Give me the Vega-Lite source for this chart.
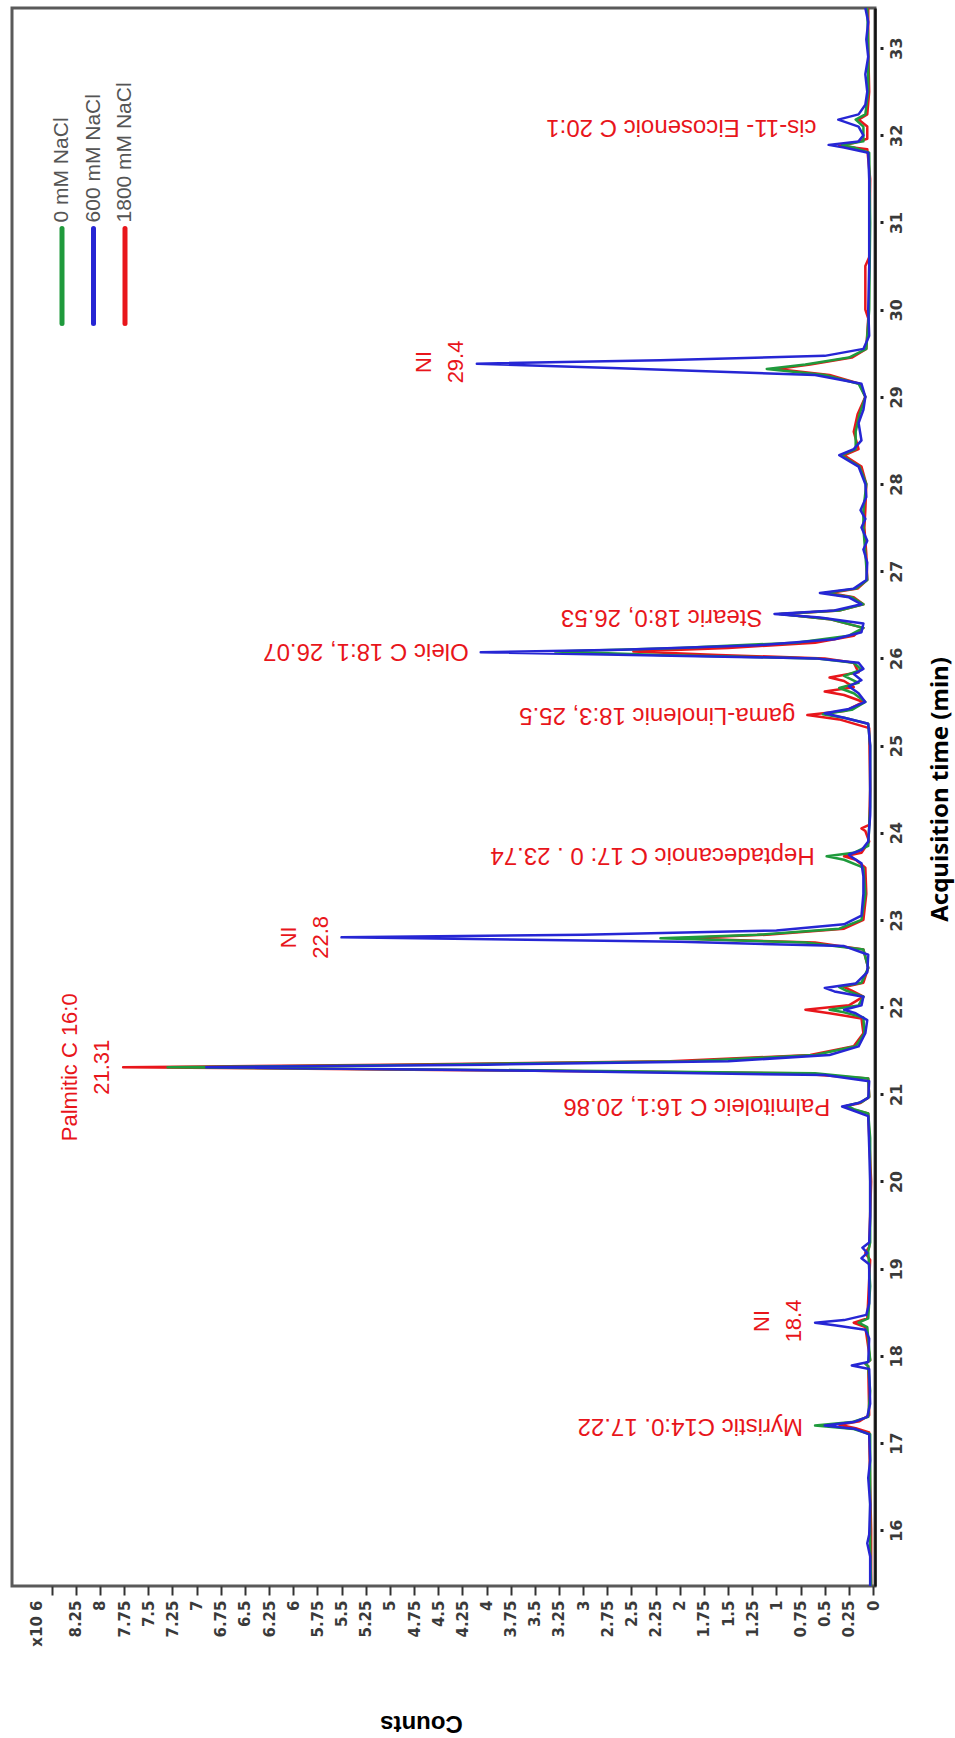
{
  "$schema": "https://vega.github.io/schema/vega-lite/v6.json",
  "width": 863,
  "height": 1578,
  "autosize": {"type": "none"},
  "padding": {"left": 12, "top": 8, "right": 80, "bottom": 152},
  "background": "white",
  "config": {"view": {"stroke": "#5a5a5a", "strokeWidth": 3}},
  "datasets": {
    "traces": [
      {"s":"600 mM NaCl","t":15.36,"c":0.03},{"s":"600 mM NaCl","t":15.7,"c":0.03},{"s":"600 mM NaCl","t":15.85,"c":0.06},{"s":"600 mM NaCl","t":15.95,"c":0.04},{"s":"600 mM NaCl","t":16.3,"c":0.03},{"s":"600 mM NaCl","t":16.6,"c":0.05},{"s":"600 mM NaCl","t":16.8,"c":0.03},
      {"s":"600 mM NaCl","t":17.1,"c":0.04},{"s":"600 mM NaCl","t":17.16,"c":0.18},{"s":"600 mM NaCl","t":17.2,"c":0.5},{"s":"600 mM NaCl","t":17.24,"c":0.2},{"s":"600 mM NaCl","t":17.3,"c":0.06},{"s":"600 mM NaCl","t":17.45,"c":0.03},
      {"s":"600 mM NaCl","t":17.85,"c":0.04},{"s":"600 mM NaCl","t":17.89,"c":0.22},{"s":"600 mM NaCl","t":17.93,"c":0.05},{"s":"600 mM NaCl","t":18.2,"c":0.04},{"s":"600 mM NaCl","t":18.3,"c":0.08},{"s":"600 mM NaCl","t":18.35,"c":0.4},{"s":"600 mM NaCl","t":18.38,"c":0.6},{"s":"600 mM NaCl","t":18.41,"c":0.3},{"s":"600 mM NaCl","t":18.47,"c":0.07},{"s":"600 mM NaCl","t":18.6,"c":0.04},
      {"s":"600 mM NaCl","t":19.05,"c":0.04},{"s":"600 mM NaCl","t":19.12,"c":0.12},{"s":"600 mM NaCl","t":19.18,"c":0.06},{"s":"600 mM NaCl","t":19.24,"c":0.11},{"s":"600 mM NaCl","t":19.3,"c":0.04},{"s":"600 mM NaCl","t":19.6,"c":0.03},{"s":"600 mM NaCl","t":20.0,"c":0.03},{"s":"600 mM NaCl","t":20.4,"c":0.04},
      {"s":"600 mM NaCl","t":20.75,"c":0.05},{"s":"600 mM NaCl","t":20.82,"c":0.22},{"s":"600 mM NaCl","t":20.86,"c":0.32},{"s":"600 mM NaCl","t":20.9,"c":0.15},{"s":"600 mM NaCl","t":20.96,"c":0.05},{"s":"600 mM NaCl","t":21.15,"c":0.04},
      {"s":"600 mM NaCl","t":21.22,"c":0.5},{"s":"600 mM NaCl","t":21.27,"c":3.5},{"s":"600 mM NaCl","t":21.31,"c":6.9},{"s":"600 mM NaCl","t":21.34,"c":4.0},{"s":"600 mM NaCl","t":21.38,"c":1.5},{"s":"600 mM NaCl","t":21.45,"c":0.45},{"s":"600 mM NaCl","t":21.55,"c":0.15},{"s":"600 mM NaCl","t":21.7,"c":0.08},
      {"s":"600 mM NaCl","t":21.85,"c":0.06},{"s":"600 mM NaCl","t":21.93,"c":0.18},{"s":"600 mM NaCl","t":21.97,"c":0.3},{"s":"600 mM NaCl","t":22.02,"c":0.12},{"s":"600 mM NaCl","t":22.12,"c":0.1},{"s":"600 mM NaCl","t":22.18,"c":0.4},{"s":"600 mM NaCl","t":22.22,"c":0.5},{"s":"600 mM NaCl","t":22.27,"c":0.18},{"s":"600 mM NaCl","t":22.4,"c":0.06},
      {"s":"600 mM NaCl","t":22.6,"c":0.05},{"s":"600 mM NaCl","t":22.7,"c":0.3},{"s":"600 mM NaCl","t":22.75,"c":2.0},{"s":"600 mM NaCl","t":22.8,"c":5.5},{"s":"600 mM NaCl","t":22.83,"c":3.0},{"s":"600 mM NaCl","t":22.88,"c":1.0},{"s":"600 mM NaCl","t":22.95,"c":0.3},{"s":"600 mM NaCl","t":23.05,"c":0.12},
      {"s":"600 mM NaCl","t":23.3,"c":0.1},{"s":"600 mM NaCl","t":23.5,"c":0.1},{"s":"600 mM NaCl","t":23.65,"c":0.12},{"s":"600 mM NaCl","t":23.72,"c":0.22},{"s":"600 mM NaCl","t":23.75,"c":0.25},{"s":"600 mM NaCl","t":23.8,"c":0.12},{"s":"600 mM NaCl","t":23.9,"c":0.05},
      {"s":"600 mM NaCl","t":24.2,"c":0.03},{"s":"600 mM NaCl","t":24.6,"c":0.03},{"s":"600 mM NaCl","t":25.0,"c":0.03},{"s":"600 mM NaCl","t":25.25,"c":0.05},{"s":"600 mM NaCl","t":25.32,"c":0.3},{"s":"600 mM NaCl","t":25.37,"c":0.5},{"s":"600 mM NaCl","t":25.42,"c":0.25},{"s":"600 mM NaCl","t":25.5,"c":0.08},
      {"s":"600 mM NaCl","t":25.6,"c":0.15},{"s":"600 mM NaCl","t":25.68,"c":0.25},{"s":"600 mM NaCl","t":25.75,"c":0.12},{"s":"600 mM NaCl","t":25.82,"c":0.2},{"s":"600 mM NaCl","t":25.88,"c":0.1},{"s":"600 mM NaCl","t":25.95,"c":0.15},
      {"s":"600 mM NaCl","t":26.0,"c":0.6},{"s":"600 mM NaCl","t":26.04,"c":2.5},{"s":"600 mM NaCl","t":26.07,"c":4.06},{"s":"600 mM NaCl","t":26.1,"c":2.6},{"s":"600 mM NaCl","t":26.15,"c":1.2},{"s":"600 mM NaCl","t":26.22,"c":0.4},{"s":"600 mM NaCl","t":26.3,"c":0.12},
      {"s":"600 mM NaCl","t":26.4,"c":0.1},{"s":"600 mM NaCl","t":26.47,"c":0.55},{"s":"600 mM NaCl","t":26.51,"c":1.02},{"s":"600 mM NaCl","t":26.55,"c":0.4},{"s":"600 mM NaCl","t":26.62,"c":0.12},{"s":"600 mM NaCl","t":26.7,"c":0.25},{"s":"600 mM NaCl","t":26.75,"c":0.55},{"s":"600 mM NaCl","t":26.8,"c":0.2},{"s":"600 mM NaCl","t":26.9,"c":0.07},
      {"s":"600 mM NaCl","t":27.1,"c":0.06},{"s":"600 mM NaCl","t":27.25,"c":0.1},{"s":"600 mM NaCl","t":27.35,"c":0.06},{"s":"600 mM NaCl","t":27.5,"c":0.12},{"s":"600 mM NaCl","t":27.6,"c":0.08},{"s":"600 mM NaCl","t":27.7,"c":0.13},{"s":"600 mM NaCl","t":27.85,"c":0.07},
      {"s":"600 mM NaCl","t":28.0,"c":0.08},{"s":"600 mM NaCl","t":28.2,"c":0.15},{"s":"600 mM NaCl","t":28.33,"c":0.35},{"s":"600 mM NaCl","t":28.4,"c":0.2},{"s":"600 mM NaCl","t":28.5,"c":0.12},{"s":"600 mM NaCl","t":28.7,"c":0.15},{"s":"600 mM NaCl","t":28.85,"c":0.1},{"s":"600 mM NaCl","t":29.0,"c":0.08},
      {"s":"600 mM NaCl","t":29.15,"c":0.12},{"s":"600 mM NaCl","t":29.25,"c":0.6},{"s":"600 mM NaCl","t":29.33,"c":2.7},{"s":"600 mM NaCl","t":29.38,"c":4.1},{"s":"600 mM NaCl","t":29.42,"c":2.2},{"s":"600 mM NaCl","t":29.47,"c":0.5},{"s":"600 mM NaCl","t":29.55,"c":0.1},{"s":"600 mM NaCl","t":29.7,"c":0.04},
      {"s":"600 mM NaCl","t":30.0,"c":0.05},{"s":"600 mM NaCl","t":30.5,"c":0.04},{"s":"600 mM NaCl","t":31.0,"c":0.04},{"s":"600 mM NaCl","t":31.5,"c":0.04},{"s":"600 mM NaCl","t":31.8,"c":0.05},{"s":"600 mM NaCl","t":31.86,"c":0.3},{"s":"600 mM NaCl","t":31.89,"c":0.46},{"s":"600 mM NaCl","t":31.93,"c":0.15},
      {"s":"600 mM NaCl","t":32.0,"c":0.1},{"s":"600 mM NaCl","t":32.1,"c":0.15},{"s":"600 mM NaCl","t":32.18,"c":0.36},{"s":"600 mM NaCl","t":32.24,"c":0.15},{"s":"600 mM NaCl","t":32.35,"c":0.08},{"s":"600 mM NaCl","t":32.5,"c":0.06},{"s":"600 mM NaCl","t":32.7,"c":0.08},{"s":"600 mM NaCl","t":32.9,"c":0.05},{"s":"600 mM NaCl","t":33.1,"c":0.07},{"s":"600 mM NaCl","t":33.3,"c":0.05},{"s":"600 mM NaCl","t":33.46,"c":0.08},

      {"s":"0 mM NaCl","t":15.36,"c":0.02},{"s":"0 mM NaCl","t":15.8,"c":0.03},{"s":"0 mM NaCl","t":16.0,"c":0.03},{"s":"0 mM NaCl","t":16.5,"c":0.03},{"s":"0 mM NaCl","t":17.1,"c":0.03},{"s":"0 mM NaCl","t":17.16,"c":0.2},{"s":"0 mM NaCl","t":17.2,"c":0.6},{"s":"0 mM NaCl","t":17.24,"c":0.22},{"s":"0 mM NaCl","t":17.3,"c":0.05},{"s":"0 mM NaCl","t":17.6,"c":0.03},
      {"s":"0 mM NaCl","t":17.88,"c":0.05},{"s":"0 mM NaCl","t":17.91,"c":0.08},{"s":"0 mM NaCl","t":17.95,"c":0.03},{"s":"0 mM NaCl","t":18.33,"c":0.06},{"s":"0 mM NaCl","t":18.38,"c":0.15},{"s":"0 mM NaCl","t":18.43,"c":0.05},{"s":"0 mM NaCl","t":18.8,"c":0.03},{"s":"0 mM NaCl","t":19.2,"c":0.05},{"s":"0 mM NaCl","t":19.3,"c":0.03},{"s":"0 mM NaCl","t":20.0,"c":0.03},{"s":"0 mM NaCl","t":20.5,"c":0.03},
      {"s":"0 mM NaCl","t":20.78,"c":0.05},{"s":"0 mM NaCl","t":20.83,"c":0.2},{"s":"0 mM NaCl","t":20.87,"c":0.27},{"s":"0 mM NaCl","t":20.91,"c":0.12},{"s":"0 mM NaCl","t":20.97,"c":0.04},{"s":"0 mM NaCl","t":21.18,"c":0.05},
      {"s":"0 mM NaCl","t":21.24,"c":0.6},{"s":"0 mM NaCl","t":21.28,"c":4.0},{"s":"0 mM NaCl","t":21.31,"c":7.3},{"s":"0 mM NaCl","t":21.34,"c":4.6},{"s":"0 mM NaCl","t":21.38,"c":1.9},{"s":"0 mM NaCl","t":21.45,"c":0.6},{"s":"0 mM NaCl","t":21.55,"c":0.18},{"s":"0 mM NaCl","t":21.7,"c":0.09},
      {"s":"0 mM NaCl","t":21.88,"c":0.1},{"s":"0 mM NaCl","t":21.94,"c":0.3},{"s":"0 mM NaCl","t":21.97,"c":0.45},{"s":"0 mM NaCl","t":22.02,"c":0.15},{"s":"0 mM NaCl","t":22.12,"c":0.1},{"s":"0 mM NaCl","t":22.19,"c":0.28},{"s":"0 mM NaCl","t":22.23,"c":0.35},{"s":"0 mM NaCl","t":22.28,"c":0.12},{"s":"0 mM NaCl","t":22.45,"c":0.05},
      {"s":"0 mM NaCl","t":22.66,"c":0.1},{"s":"0 mM NaCl","t":22.74,"c":0.7},{"s":"0 mM NaCl","t":22.79,"c":2.2},{"s":"0 mM NaCl","t":22.83,"c":1.2},{"s":"0 mM NaCl","t":22.9,"c":0.35},{"s":"0 mM NaCl","t":23.0,"c":0.12},{"s":"0 mM NaCl","t":23.3,"c":0.08},
      {"s":"0 mM NaCl","t":23.6,"c":0.1},{"s":"0 mM NaCl","t":23.69,"c":0.3},{"s":"0 mM NaCl","t":23.73,"c":0.48},{"s":"0 mM NaCl","t":23.77,"c":0.2},{"s":"0 mM NaCl","t":23.85,"c":0.05},{"s":"0 mM NaCl","t":24.3,"c":0.03},{"s":"0 mM NaCl","t":25.0,"c":0.03},
      {"s":"0 mM NaCl","t":25.25,"c":0.05},{"s":"0 mM NaCl","t":25.32,"c":0.3},{"s":"0 mM NaCl","t":25.36,"c":0.52},{"s":"0 mM NaCl","t":25.41,"c":0.22},{"s":"0 mM NaCl","t":25.5,"c":0.08},{"s":"0 mM NaCl","t":25.6,"c":0.2},{"s":"0 mM NaCl","t":25.66,"c":0.35},{"s":"0 mM NaCl","t":25.72,"c":0.15},{"s":"0 mM NaCl","t":25.8,"c":0.3},{"s":"0 mM NaCl","t":25.87,"c":0.12},{"s":"0 mM NaCl","t":25.95,"c":0.2},
      {"s":"0 mM NaCl","t":26.0,"c":0.6},{"s":"0 mM NaCl","t":26.04,"c":2.2},{"s":"0 mM NaCl","t":26.08,"c":3.29},{"s":"0 mM NaCl","t":26.12,"c":2.0},{"s":"0 mM NaCl","t":26.18,"c":0.8},{"s":"0 mM NaCl","t":26.26,"c":0.25},{"s":"0 mM NaCl","t":26.35,"c":0.1},
      {"s":"0 mM NaCl","t":26.45,"c":0.45},{"s":"0 mM NaCl","t":26.51,"c":0.97},{"s":"0 mM NaCl","t":26.55,"c":0.35},{"s":"0 mM NaCl","t":26.62,"c":0.1},{"s":"0 mM NaCl","t":26.7,"c":0.22},{"s":"0 mM NaCl","t":26.75,"c":0.5},{"s":"0 mM NaCl","t":26.8,"c":0.18},{"s":"0 mM NaCl","t":26.9,"c":0.06},
      {"s":"0 mM NaCl","t":27.2,"c":0.08},{"s":"0 mM NaCl","t":27.5,"c":0.1},{"s":"0 mM NaCl","t":27.7,"c":0.1},{"s":"0 mM NaCl","t":28.0,"c":0.07},{"s":"0 mM NaCl","t":28.2,"c":0.14},{"s":"0 mM NaCl","t":28.33,"c":0.33},{"s":"0 mM NaCl","t":28.4,"c":0.18},{"s":"0 mM NaCl","t":28.6,"c":0.18},{"s":"0 mM NaCl","t":28.8,"c":0.14},{"s":"0 mM NaCl","t":29.0,"c":0.08},
      {"s":"0 mM NaCl","t":29.15,"c":0.15},{"s":"0 mM NaCl","t":29.25,"c":0.5},{"s":"0 mM NaCl","t":29.32,"c":1.1},{"s":"0 mM NaCl","t":29.37,"c":0.7},{"s":"0 mM NaCl","t":29.45,"c":0.25},{"s":"0 mM NaCl","t":29.55,"c":0.07},{"s":"0 mM NaCl","t":30.0,"c":0.04},{"s":"0 mM NaCl","t":31.0,"c":0.03},
      {"s":"0 mM NaCl","t":31.8,"c":0.04},{"s":"0 mM NaCl","t":31.86,"c":0.2},{"s":"0 mM NaCl","t":31.89,"c":0.32},{"s":"0 mM NaCl","t":31.93,"c":0.1},{"s":"0 mM NaCl","t":32.1,"c":0.1},{"s":"0 mM NaCl","t":32.18,"c":0.18},{"s":"0 mM NaCl","t":32.24,"c":0.08},{"s":"0 mM NaCl","t":32.5,"c":0.05},{"s":"0 mM NaCl","t":33.0,"c":0.05},{"s":"0 mM NaCl","t":33.46,"c":0.06},

      {"s":"1800 mM NaCl","t":15.36,"c":0.02},{"s":"1800 mM NaCl","t":16.0,"c":0.02},{"s":"1800 mM NaCl","t":16.5,"c":0.03},{"s":"1800 mM NaCl","t":17.12,"c":0.04},{"s":"1800 mM NaCl","t":17.17,"c":0.18},{"s":"1800 mM NaCl","t":17.21,"c":0.35},{"s":"1800 mM NaCl","t":17.25,"c":0.14},{"s":"1800 mM NaCl","t":17.32,"c":0.04},
      {"s":"1800 mM NaCl","t":17.88,"c":0.05},{"s":"1800 mM NaCl","t":17.91,"c":0.08},{"s":"1800 mM NaCl","t":17.95,"c":0.03},{"s":"1800 mM NaCl","t":18.33,"c":0.08},{"s":"1800 mM NaCl","t":18.38,"c":0.2},{"s":"1800 mM NaCl","t":18.43,"c":0.06},{"s":"1800 mM NaCl","t":19.1,"c":0.03},{"s":"1800 mM NaCl","t":19.18,"c":0.08},{"s":"1800 mM NaCl","t":19.25,"c":0.04},{"s":"1800 mM NaCl","t":20.0,"c":0.02},
      {"s":"1800 mM NaCl","t":20.78,"c":0.05},{"s":"1800 mM NaCl","t":20.83,"c":0.22},{"s":"1800 mM NaCl","t":20.86,"c":0.3},{"s":"1800 mM NaCl","t":20.9,"c":0.13},{"s":"1800 mM NaCl","t":20.97,"c":0.04},{"s":"1800 mM NaCl","t":21.18,"c":0.05},
      {"s":"1800 mM NaCl","t":21.24,"c":0.8},{"s":"1800 mM NaCl","t":21.28,"c":4.5},{"s":"1800 mM NaCl","t":21.31,"c":7.76},{"s":"1800 mM NaCl","t":21.34,"c":5.0},{"s":"1800 mM NaCl","t":21.38,"c":2.1},{"s":"1800 mM NaCl","t":21.45,"c":0.65},{"s":"1800 mM NaCl","t":21.55,"c":0.2},{"s":"1800 mM NaCl","t":21.7,"c":0.1},
      {"s":"1800 mM NaCl","t":21.87,"c":0.12},{"s":"1800 mM NaCl","t":21.93,"c":0.45},{"s":"1800 mM NaCl","t":21.97,"c":0.7},{"s":"1800 mM NaCl","t":22.02,"c":0.25},{"s":"1800 mM NaCl","t":22.12,"c":0.1},{"s":"1800 mM NaCl","t":22.19,"c":0.22},{"s":"1800 mM NaCl","t":22.23,"c":0.3},{"s":"1800 mM NaCl","t":22.28,"c":0.1},{"s":"1800 mM NaCl","t":22.45,"c":0.05},
      {"s":"1800 mM NaCl","t":22.66,"c":0.1},{"s":"1800 mM NaCl","t":22.74,"c":0.6},{"s":"1800 mM NaCl","t":22.79,"c":2.0},{"s":"1800 mM NaCl","t":22.83,"c":1.1},{"s":"1800 mM NaCl","t":22.9,"c":0.3},{"s":"1800 mM NaCl","t":23.0,"c":0.1},{"s":"1800 mM NaCl","t":23.3,"c":0.07},
      {"s":"1800 mM NaCl","t":23.6,"c":0.08},{"s":"1800 mM NaCl","t":23.69,"c":0.18},{"s":"1800 mM NaCl","t":23.73,"c":0.3},{"s":"1800 mM NaCl","t":23.77,"c":0.12},{"s":"1800 mM NaCl","t":23.9,"c":0.04},{"s":"1800 mM NaCl","t":24.02,"c":0.08},{"s":"1800 mM NaCl","t":24.05,"c":0.12},{"s":"1800 mM NaCl","t":24.09,"c":0.04},{"s":"1800 mM NaCl","t":24.5,"c":0.03},
      {"s":"1800 mM NaCl","t":25.2,"c":0.04},{"s":"1800 mM NaCl","t":25.3,"c":0.35},{"s":"1800 mM NaCl","t":25.35,"c":0.68},{"s":"1800 mM NaCl","t":25.4,"c":0.28},{"s":"1800 mM NaCl","t":25.5,"c":0.1},{"s":"1800 mM NaCl","t":25.58,"c":0.3},{"s":"1800 mM NaCl","t":25.62,"c":0.5},{"s":"1800 mM NaCl","t":25.67,"c":0.2},{"s":"1800 mM NaCl","t":25.74,"c":0.3},{"s":"1800 mM NaCl","t":25.78,"c":0.45},{"s":"1800 mM NaCl","t":25.84,"c":0.15},{"s":"1800 mM NaCl","t":25.95,"c":0.2},
      {"s":"1800 mM NaCl","t":26.0,"c":0.5},{"s":"1800 mM NaCl","t":26.04,"c":1.6},{"s":"1800 mM NaCl","t":26.08,"c":2.48},{"s":"1800 mM NaCl","t":26.12,"c":1.5},{"s":"1800 mM NaCl","t":26.18,"c":0.6},{"s":"1800 mM NaCl","t":26.26,"c":0.2},{"s":"1800 mM NaCl","t":26.35,"c":0.1},
      {"s":"1800 mM NaCl","t":26.45,"c":0.45},{"s":"1800 mM NaCl","t":26.51,"c":0.95},{"s":"1800 mM NaCl","t":26.55,"c":0.35},{"s":"1800 mM NaCl","t":26.62,"c":0.1},{"s":"1800 mM NaCl","t":26.7,"c":0.2},{"s":"1800 mM NaCl","t":26.75,"c":0.45},{"s":"1800 mM NaCl","t":26.8,"c":0.16},{"s":"1800 mM NaCl","t":26.9,"c":0.06},
      {"s":"1800 mM NaCl","t":27.2,"c":0.07},{"s":"1800 mM NaCl","t":27.5,"c":0.09},{"s":"1800 mM NaCl","t":27.7,"c":0.08},{"s":"1800 mM NaCl","t":28.0,"c":0.07},{"s":"1800 mM NaCl","t":28.2,"c":0.12},{"s":"1800 mM NaCl","t":28.33,"c":0.3},{"s":"1800 mM NaCl","t":28.4,"c":0.15},{"s":"1800 mM NaCl","t":28.6,"c":0.2},{"s":"1800 mM NaCl","t":28.8,"c":0.16},{"s":"1800 mM NaCl","t":29.0,"c":0.08},
      {"s":"1800 mM NaCl","t":29.15,"c":0.14},{"s":"1800 mM NaCl","t":29.25,"c":0.45},{"s":"1800 mM NaCl","t":29.32,"c":1.0},{"s":"1800 mM NaCl","t":29.37,"c":0.65},{"s":"1800 mM NaCl","t":29.45,"c":0.22},{"s":"1800 mM NaCl","t":29.55,"c":0.07},{"s":"1800 mM NaCl","t":29.9,"c":0.05},{"s":"1800 mM NaCl","t":30.0,"c":0.08},{"s":"1800 mM NaCl","t":30.5,"c":0.08},{"s":"1800 mM NaCl","t":30.6,"c":0.04},{"s":"1800 mM NaCl","t":31.5,"c":0.03},
      {"s":"1800 mM NaCl","t":31.84,"c":0.06},{"s":"1800 mM NaCl","t":31.88,"c":0.35},{"s":"1800 mM NaCl","t":31.91,"c":0.2},{"s":"1800 mM NaCl","t":31.96,"c":0.06},{"s":"1800 mM NaCl","t":32.1,"c":0.06},{"s":"1800 mM NaCl","t":32.18,"c":0.15},{"s":"1800 mM NaCl","t":32.24,"c":0.06},{"s":"1800 mM NaCl","t":32.5,"c":0.04},{"s":"1800 mM NaCl","t":33.0,"c":0.05},{"s":"1800 mM NaCl","t":33.46,"c":0.05}
    ],
    "flipped": [
      {"label": "Myristic C14:0. 17.22", "t": 17.2, "c": 0.6},
      {"label": "Palmitoleic C 16:1,  20.86", "t": 20.86, "c": 0.32},
      {"label": "Heptadecanoic C 17: 0 . 23.74", "t": 23.74, "c": 0.48},
      {"label": "gama-Linolenic 18:3, 25.5", "t": 25.35, "c": 0.68},
      {"label": "Oleic C 18:1,  26.07", "t": 26.08, "c": 4.06},
      {"label": "Stearic 18:0, 26.53", "t": 26.48, "c": 1.02},
      {"label": "cis-11- Eicosenoic C 20:1", "t": 32.09, "c": 0.46}
    ],
    "rotated": [
      {"label": "Palmitic C 16:0\n21.31", "t": 21.31, "c": 7.76},
      {"label": "NI\n22.8", "t": 22.8, "c": 5.5},
      {"label": "NI\n18.4", "t": 18.4, "c": 0.6},
      {"label": "NI\n29.4", "t": 29.4, "c": 4.1}
    ],
    "legend": [
      {"s": "0 mM NaCl"},
      {"s": "600 mM NaCl"},
      {"s": "1800 mM NaCl"}
    ]
  },
  "layer": [
    {
      "encoding": {
        "x": {
          "field": "c", "type": "quantitative",
          "scale": {"domain": [-0.02, 8.91], "reverse": true, "nice": false, "zero": false},
          "axis": {
            "orient": "bottom",
            "values": [0,0.25,0.5,0.75,1,1.25,1.5,1.75,2,2.25,2.5,2.75,3,3.25,3.5,3.75,4,4.25,4.5,4.75,5,5.25,5.5,5.75,6,6.25,6.5,6.75,7,7.25,7.5,7.75,8,8.25,8.5,8.66],
            "labelExpr": "datum.value > 8.6 ? 'x10 6' : (datum.value > 8.4 ? '' : '' + datum.value)",
            "labelAngle": 270, "labelAlign": "right", "labelBaseline": "middle",
            "labelFont": "DejaVu Sans", "labelFontSize": 15, "labelFontWeight": "bold", "labelColor": "#3a3a3a",
            "labelPadding": 5, "labelOverlap": false, "labelFlush": false,
            "domain": false, "grid": false,
            "ticks": true, "tickSize": 9, "tickWidth": 2, "tickColor": "#333",
            "tickOpacity": {"condition": {"test": "datum.value > 8.6", "value": 0}, "value": 1},
            "title": "Counts", "titleAngle": 180, "titleFont": "Liberation Sans", "titleFontSize": 24, "titleFontWeight": "bold", "titleColor": "#000",
            "titleAlign": "center", "titleBaseline": "middle", "titleX": 409, "titleY": 136
          }
        },
        "y": {
          "field": "t", "type": "quantitative",
          "scale": {"domain": [15.36, 33.46], "nice": false, "zero": false},
          "axis": {
            "orient": "right",
            "values": [16,17,18,19,20,21,22,23,24,25,26,27,28,29,30,31,32,33],
            "format": "d",
            "labelAngle": 270, "labelAlign": "center", "labelBaseline": "top",
            "labelFont": "DejaVu Sans", "labelFontSize": 16, "labelFontWeight": "bold", "labelColor": "#3a3a3a",
            "labelPadding": 4, "labelOverlap": false, "labelFlush": false,
            "domain": true, "domainColor": "#111", "domainWidth": 2.5, "grid": false,
            "ticks": true, "tickSize": 9, "tickWidth": 3, "tickColor": "#222", "tickDash": [0, 5, 3, 10], "tickCap": "butt",
            "title": "Acquisition  time (min)", "titleAngle": 270, "titleFont": "Noto Sans", "titleFontSize": 24, "titleFontWeight": "bold", "titleColor": "#000",
            "titleAlign": "center", "titleBaseline": "middle", "titleX": 65, "titleY": 781
          }
        }
      },
      "layer": [
        {
          "data": {"name": "traces"},
          "transform": [{"filter": "datum.s == '1800 mM NaCl'"}],
          "mark": {"type": "line", "strokeWidth": 2.5, "strokeJoin": "round"},
          "encoding": {
            "order": {"field": "t", "type": "quantitative"},
            "color": {"field": "s", "type": "nominal", "scale": {"domain": ["0 mM NaCl", "600 mM NaCl", "1800 mM NaCl"], "range": ["#1f9a3c", "#2626d4", "#e8161b"]}, "legend": null}
          }
        },
        {
          "data": {"name": "traces"},
          "transform": [{"filter": "datum.s == '0 mM NaCl'"}],
          "mark": {"type": "line", "strokeWidth": 2.5, "strokeJoin": "round"},
          "encoding": {
            "order": {"field": "t", "type": "quantitative"},
            "color": {"field": "s", "type": "nominal", "scale": {"domain": ["0 mM NaCl", "600 mM NaCl", "1800 mM NaCl"], "range": ["#1f9a3c", "#2626d4", "#e8161b"]}, "legend": null}
          }
        },
        {
          "data": {"name": "traces"},
          "transform": [{"filter": "datum.s == '600 mM NaCl'"}],
          "mark": {"type": "line", "strokeWidth": 2.5, "strokeJoin": "round"},
          "encoding": {
            "order": {"field": "t", "type": "quantitative"},
            "color": {"field": "s", "type": "nominal", "scale": {"domain": ["0 mM NaCl", "600 mM NaCl", "1800 mM NaCl"], "range": ["#1f9a3c", "#2626d4", "#e8161b"]}, "legend": null}
          }
        },
        {
          "data": {"name": "flipped"},
          "mark": {"type": "text", "angle": 180, "align": "left", "baseline": "middle", "dx": 12, "font": "Liberation Sans", "fontSize": 24, "color": "#e8151b"},
          "encoding": {"text": {"field": "label", "type": "nominal"}}
        },
        {
          "data": {"name": "rotated"},
          "mark": {"type": "text", "angle": 270, "align": "center", "baseline": "bottom", "dy": -41, "lineBreak": "\n", "lineHeight": 32, "font": "Liberation Sans", "fontSize": 22, "color": "#e8151b"},
          "encoding": {"text": {"field": "label", "type": "nominal"}}
        }
      ]
    },
    {
      "data": {"name": "legend"},
      "encoding": {
        "x": {"field": "s", "type": "nominal", "scale": {"type": "point", "domain": ["0 mM NaCl", "600 mM NaCl", "1800 mM NaCl"], "range": [50, 113], "padding": 0}, "axis": null}
      },
      "layer": [
        {
          "mark": {"type": "rule", "strokeWidth": 5, "strokeCap": "round"},
          "encoding": {
            "y": {"datum": 30.93},
            "y2": {"datum": 29.84},
            "color": {"field": "s", "type": "nominal", "scale": {"domain": ["0 mM NaCl", "600 mM NaCl", "1800 mM NaCl"], "range": ["#1f9a3c", "#2626d4", "#e8161b"]}, "legend": null}
          }
        },
        {
          "mark": {"type": "text", "angle": 270, "align": "left", "baseline": "middle", "font": "Liberation Sans", "fontSize": 21, "color": "#555"},
          "encoding": {
            "y": {"datum": 31.0},
            "text": {"field": "s", "type": "nominal"}
          }
        }
      ]
    }
  ],
  "resolve": {"scale": {"x": "independent"}}
}
